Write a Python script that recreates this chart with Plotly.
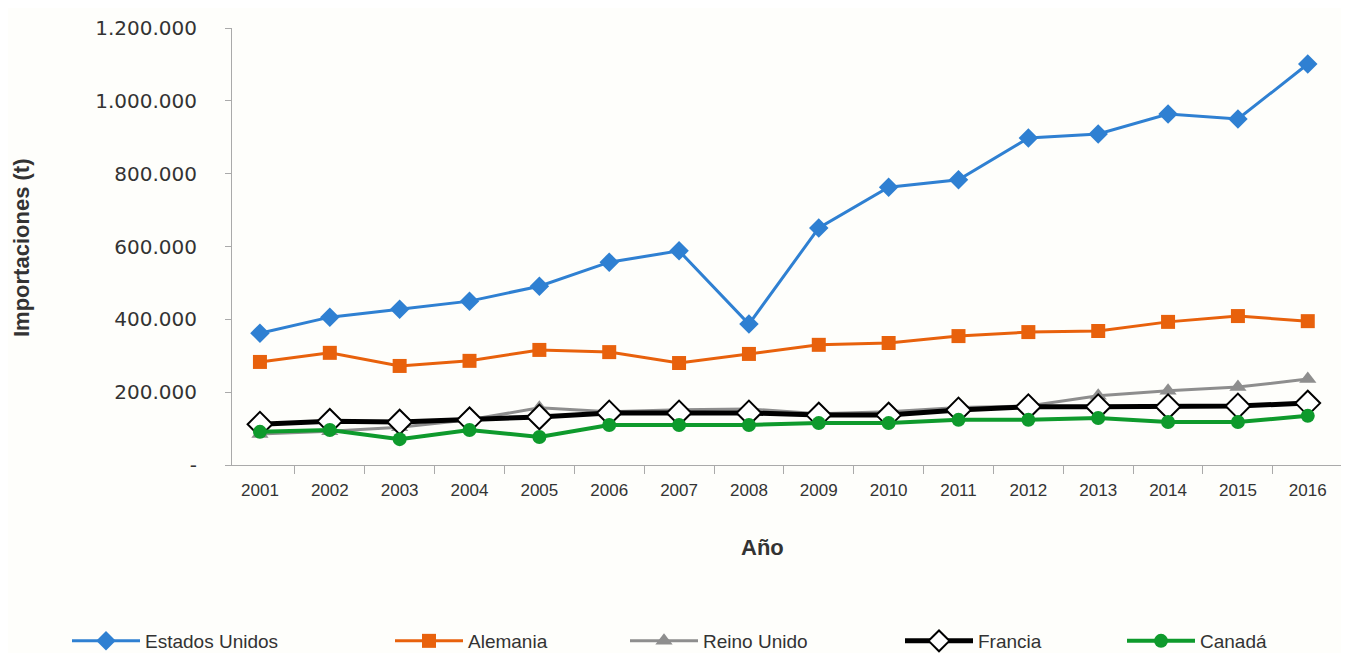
import plotly.graph_objects as go

years = ["2001", "2002", "2003", "2004", "2005", "2006", "2007", "2008",
         "2009", "2010", "2011", "2012", "2013", "2014", "2015", "2016"]

estados_unidos = [362000, 406000, 428000, 450000, 491000, 557000, 588000, 387000,
                  651000, 763000, 783000, 898000, 909000, 964000, 950000, 1101000]
alemania = [283000, 308000, 272000, 286000, 316000, 310000, 280000, 305000,
            330000, 335000, 354000, 365000, 368000, 393000, 409000, 395000]
reino_unido = [85000, 93000, 104000, 124000, 157000, 146000, 152000, 154000,
               141000, 146000, 158000, 162000, 190000, 204000, 214000, 236000]
francia = [112000, 120000, 118000, 124000, 132000, 143000, 143000, 143000,
           137000, 137000, 151000, 160000, 160000, 160000, 162000, 170000]
canada = [91000, 96000, 71000, 96000, 77000, 110000, 110000, 110000,
          115000, 115000, 124000, 124000, 129000, 118000, 118000, 135000]

y_tickvals = [0, 200000, 400000, 600000, 800000, 1000000, 1200000]
y_ticktext = ["-", "200.000", "400.000", "600.000", "800.000", "1.000.000", "1.200.000"]

series = [
    ("Estados Unidos", estados_unidos, "#2F80D2", 3, dict(symbol="diamond", size=15, color="#2F80D2")),
    ("Alemania", alemania, "#E8610C", 3, dict(symbol="square", size=14, color="#E8610C")),
    ("Reino Unido", reino_unido, "#8E8E8E", 3, dict(symbol="triangle-up", size=15, color="#8E8E8E")),
    ("Francia", francia, "#000000", 5, dict(symbol="diamond", size=19, color="#FFFFFF",
                                            line=dict(color="#000000", width=2))),
    ("Canadá", canada, "#0E9A2C", 4, dict(symbol="circle", size=14, color="#0E9A2C")),
]

# legend symbol start positions on screen (px) for each item
legend_starts = [72, 395, 630, 905, 1127]
legend_ids = ["legend", "legend2", "legend3", "legend4", "legend5"]

fig = go.Figure()
for (name, vals, color, width, marker), lid in zip(series, legend_ids):
    fig.add_trace(go.Scatter(x=years, y=vals, name=name, mode="lines+markers",
                             line=dict(color=color, width=width), marker=marker,
                             legend=lid))

# plot area on screen: left 232, top 28, 1110 x 437 (page adds an 8px offset)
PL, PT, PW, PH = 232, 28, 1110, 437
bg = "#FEFEFB"
legend_layout = {}
for lid, sx in zip(legend_ids, legend_starts):
    legend_layout[lid] = dict(orientation="h", x=(sx - 5 - PL) / PW, xanchor="left",
                              y=(PT + PH - 641) / PH, yanchor="middle",
                              font=dict(size=19, color="#333333"),
                              itemwidth=68, bgcolor="rgba(0,0,0,0)")

fig.update_layout(
    width=1341, height=645,
    margin=dict(l=224, r=7, t=20, b=188, autoexpand=False),
    paper_bgcolor=bg, plot_bgcolor=bg,
    font=dict(family="Liberation Sans, Arial, sans-serif", color="#333333"),
    showlegend=True,
    xaxis=dict(type="category", showgrid=False, showline=True, linecolor="#AAAAAA",
               linewidth=1, ticks="outside", tickson="boundaries", ticklen=8,
               tickcolor="#AAAAAA",
               tickfont=dict(size=17, color="#333333"),
               ticklabelstandoff=10, range=[-0.4, 15.49], zeroline=False),
    yaxis=dict(range=[0, 1200000], tickvals=y_tickvals, ticktext=y_ticktext,
               showgrid=False, showline=True, linecolor="#AAAAAA", linewidth=1,
               ticks="outside", ticklen=6, tickcolor="#AAAAAA",
               tickfont=dict(size=20, color="#333333", family="DejaVu Sans, sans-serif"),
               ticklabelstandoff=24, zeroline=False),
    annotations=[
        dict(text="<b>Importaciones (t)</b>", xref="paper", yref="paper",
             x=(22 - PL) / PW, y=(PT + PH - 248) / PH, textangle=-90, showarrow=False,
             font=dict(size=22, color="#333333"), xanchor="center", yanchor="middle"),
        dict(text="<b>Año</b>", xref="paper", yref="paper",
             x=(762 - PL) / PW, y=(PT + PH - 547) / PH, showarrow=False,
             font=dict(size=22, color="#333333"), xanchor="center", yanchor="middle"),
    ],
    **legend_layout,
)

fig.write_html("out.html")
